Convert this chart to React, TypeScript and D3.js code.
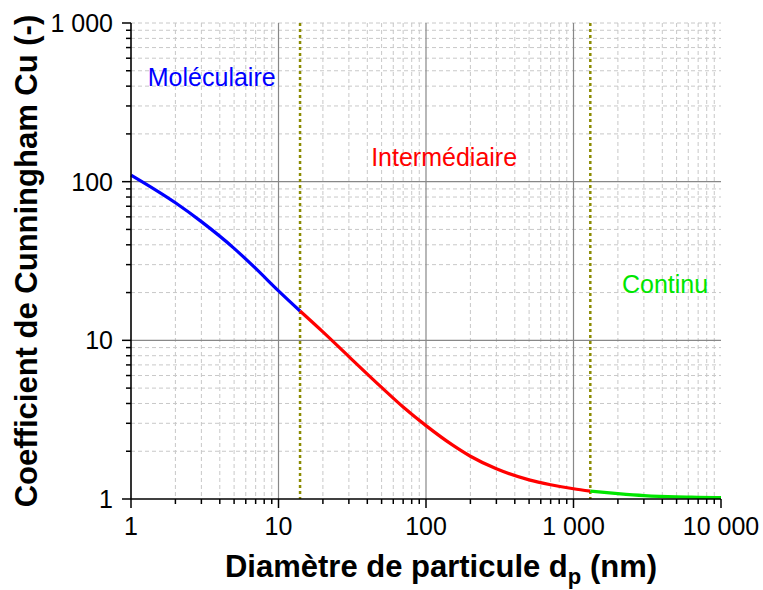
import React from "react";
import * as d3 from "d3";

// ---- Data ----
const diameters = [1, 2, 3, 5, 7, 10, 14, 20, 30, 50, 70, 100, 150, 200, 300, 500, 700, 1000, 1300, 2000, 3000, 5000, 7000, 10000];
const cunningham = [110, 73.6, 56, 38, 28.4, 20.5, 15.3, 11.3, 7.9, 5.05, 3.8, 2.9, 2.2, 1.86, 1.55, 1.32, 1.23, 1.16, 1.12, 1.08, 1.05, 1.03, 1.025, 1.02];

const regimeNames = ["Moléculaire", "Intermédiaire", "Continu"];
const regimeColors = ["#0000ff", "#ff0000", "#00e600"];
const regimeBounds = [1, 14, 1300, 10000];
const labelAnchors = [[1.3, 400], [42.5, 125], [2130, 20]]; // [d, Cu] baseline-left of region labels

const xTicks = [1, 10, 100, 1000, 10000];
const xTickLabels = ["1", "10", "100", "1 000", "10 000"];
const yTicks = [1, 10, 100, 1000];
const yTickLabels = ["1", "10", "100", "1 000"];

const xTitle = "Diamètre de particule d";
const xTitleSub = "p";
const xTitleEnd = " (nm)";
const yTitle = "Coefficient de Cunningham Cu (-)";

const W = 763;
const H = 590;
const M = { left: 131, right: 721, top: 23, bottom: 499 };
const FONT = "'Liberation Sans', Arial, sans-serif";

export default function App() {
  const x = d3.scaleLog().domain([1, 10000]).range([M.left, M.right]);
  const y = d3.scaleLog().domain([1, 1000]).range([M.bottom, M.top]);

  const minorX: number[] = [];
  for (let dec = 1; dec < 10000; dec *= 10) for (let k = 2; k <= 9; k++) minorX.push(dec * k);
  const minorY: number[] = [];
  for (let dec = 1; dec < 1000; dec *= 10) for (let k = 2; k <= 9; k++) minorY.push(dec * k);

  const pts = diameters.map((d, i) => [d, cunningham[i]] as [number, number]);
  const line = d3
    .line<[number, number]>()
    .x((p) => x(p[0]))
    .y((p) => y(p[1]))
    .curve(d3.curveMonotoneX);

  const segments = regimeNames.map((_, r) =>
    pts.filter((p) => p[0] >= regimeBounds[r] && p[0] <= regimeBounds[r + 1])
  );

  return (
    <svg width={W} height={H} style={{ position: "absolute", left: 0, top: 0, background: "#fff" }} fontFamily={FONT}>
      {/* minor grid */}
      {minorX.map((v) => (
        <line key={"mx" + v} x1={x(v)} x2={x(v)} y1={M.top} y2={M.bottom} stroke="#c8c8c8" strokeWidth={1} strokeDasharray="4,3" />
      ))}
      {minorY.map((v) => (
        <line key={"my" + v} x1={M.left} x2={M.right} y1={y(v)} y2={y(v)} stroke="#c8c8c8" strokeWidth={1} strokeDasharray="4,3" />
      ))}
      <line x1={M.left} x2={M.right} y1={y(1000)} y2={y(1000)} stroke="#c8c8c8" strokeWidth={1} strokeDasharray="4,3" />
      {/* major grid */}
      {xTicks.slice(1, -1).map((v) => (
        <line key={"gx" + v} x1={x(v)} x2={x(v)} y1={M.top} y2={M.bottom} stroke="#888" strokeWidth={1.2} />
      ))}
      {yTicks.slice(1, -1).map((v) => (
        <line key={"gy" + v} x1={M.left} x2={M.right} y1={y(v)} y2={y(v)} stroke="#888" strokeWidth={1.2} />
      ))}

      {/* regime boundaries */}
      {regimeBounds.slice(1, -1).map((v) => (
        <line key={"b" + v} x1={x(v)} x2={x(v)} y1={M.top} y2={M.bottom} stroke="#8b8b00" strokeWidth={2.5} strokeDasharray="3,3" />
      ))}

      {/* curve */}
      {segments.map((seg, r) => (
        <path key={"s" + r} d={line(seg) || ""} fill="none" stroke={regimeColors[r]} strokeWidth={3.2} strokeLinejoin="round" />
      ))}

      {/* region labels */}
      {regimeNames.map((n, r) => (
        <text key={n} x={x(labelAnchors[r][0])} y={y(labelAnchors[r][1])} fontSize={25} fill={regimeColors[r]}>
          {n}
        </text>
      ))}

      {/* axes */}
      <line x1={M.left} x2={M.right} y1={M.bottom} y2={M.bottom} stroke="#000" strokeWidth={1.6} />
      <line x1={M.left} x2={M.left} y1={M.top} y2={M.bottom} stroke="#000" strokeWidth={1.6} />
      {minorX.map((v) => (
        <line key={"tx" + v} x1={x(v)} x2={x(v)} y1={M.bottom} y2={M.bottom + 5} stroke="#000" strokeWidth={1.5} />
      ))}
      {xTicks.map((v, i) => (
        <g key={"X" + v}>
          <line x1={x(v)} x2={x(v)} y1={M.bottom} y2={M.bottom + 9} stroke="#000" strokeWidth={1.5} />
          <text x={x(v)} y={535} fontSize={25} textAnchor="middle" fill="#000">
            {xTickLabels[i]}
          </text>
        </g>
      ))}
      {minorY.map((v) => (
        <line key={"ty" + v} x1={M.left - 5} x2={M.left} y1={y(v)} y2={y(v)} stroke="#000" strokeWidth={1.5} />
      ))}
      {yTicks.map((v, i) => (
        <g key={"Y" + v}>
          <line x1={M.left - 9} x2={M.left} y1={y(v)} y2={y(v)} stroke="#000" strokeWidth={1.5} />
          <text x={113} y={y(v) + 9} fontSize={25} textAnchor="end" fill="#000">
            {yTickLabels[i]}
          </text>
        </g>
      ))}

      {/* titles */}
      <text x={441} y={577} fontSize={31} fontWeight="bold" textAnchor="middle" fill="#000">
        {xTitle}
        <tspan fontSize={22} dy={7}>{xTitleSub}</tspan>
        <tspan dy={-7}>{xTitleEnd}</tspan>
      </text>
      <text transform={`translate(37, 261) rotate(-90)`} fontSize={31} fontWeight="bold" textAnchor="middle" fill="#000">
        {yTitle}
      </text>
    </svg>
  );
}
